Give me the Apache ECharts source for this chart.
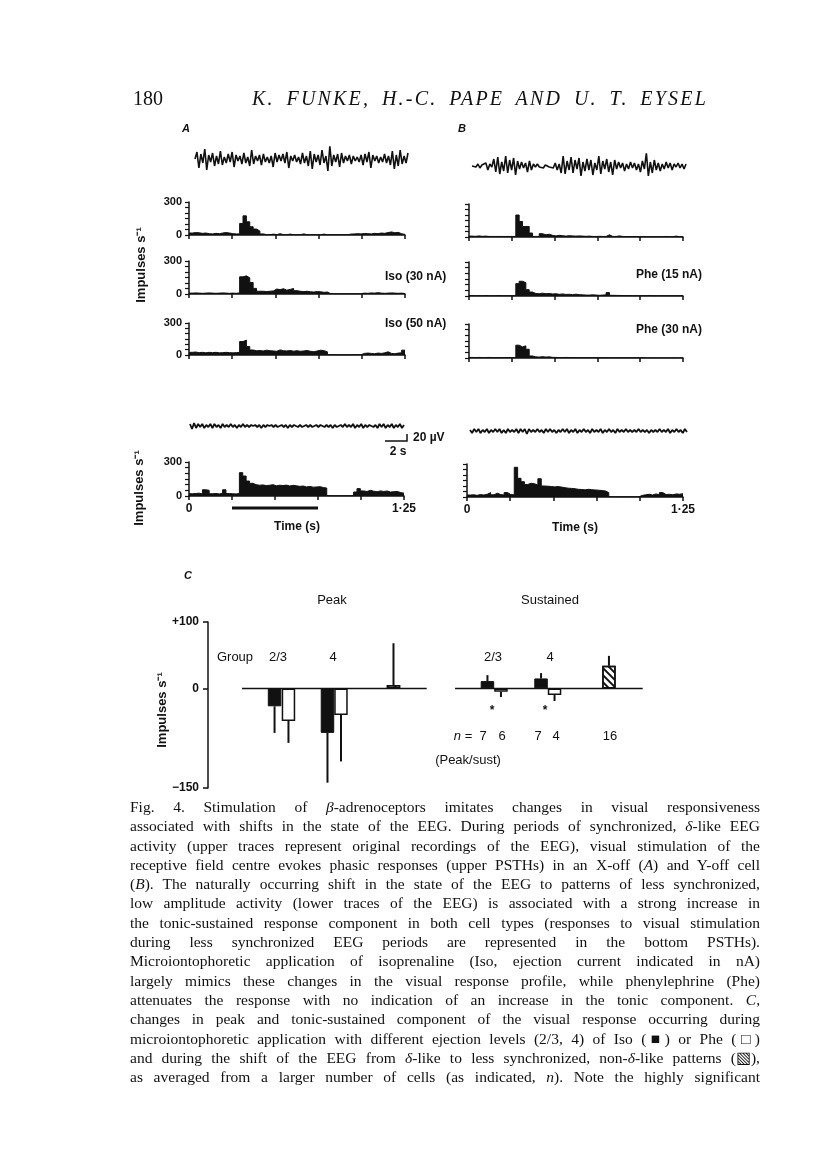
<!DOCTYPE html>
<html>
<head>
<meta charset="utf-8">
<script src="https://cdn.jsdelivr.net/npm/echarts@6.0.0/dist/echarts.min.js"></script>
<style>
  html, body { margin:0; padding:0; background:#fff; }
  #page { position:relative; width:816px; height:1169px; overflow:hidden; background:#fff; }
  #chart { position:absolute; left:0; top:0; width:816px; height:1169px; }
  .hdr { position:absolute; font-family:'Liberation Serif','Times New Roman',serif; font-size:20px; line-height:20px; color:#111; }
  #caption { position:absolute; left:130px; top:797px; width:630px; font-family:'Liberation Serif','Times New Roman',serif; font-size:15.5px; line-height:19.29px; color:#111; }
  #caption div { text-align:justify; text-align-last:justify; white-space:nowrap; }
  #caption i { font-style:italic; }
</style>
</head>
<body>
<div id="page">
  <div id="chart"></div>
  <div class="hdr" style="left:133px;top:88px;">180</div>
  <div class="hdr" style="left:252px;top:88px;width:456px;font-style:italic;letter-spacing:2.2px;text-align:justify;text-align-last:justify;white-space:nowrap;">K. FUNKE, H.-C. PAPE AND U. T. EYSEL</div>
  <div id="caption">
    <div>Fig. 4. Stimulation of <i>β</i>-adrenoceptors imitates changes in visual responsiveness</div>
    <div>associated with shifts in the state of the EEG. During periods of synchronized, <i>δ</i>-like EEG</div>
    <div>activity (upper traces represent original recordings of the EEG), visual stimulation of the</div>
    <div>receptive field centre evokes phasic responses (upper PSTHs) in an X-off (<i>A</i>) and Y-off cell</div>
    <div>(<i>B</i>). The naturally occurring shift in the state of the EEG to patterns of less synchronized,</div>
    <div>low amplitude activity (lower traces of the EEG) is associated with a strong increase in</div>
    <div>the tonic-sustained response component in both cell types (responses to visual stimulation</div>
    <div>during less synchronized EEG periods are represented in the bottom PSTHs).</div>
    <div>Microiontophoretic application of isoprenaline (Iso, ejection current indicated in nA)</div>
    <div>largely mimics these changes in the visual response profile, while phenylephrine (Phe)</div>
    <div>attenuates the response with no indication of an increase in the tonic component. <i>C</i>,</div>
    <div>changes in peak and tonic-sustained component of the visual response occurring during</div>
    <div>microiontophoretic application with different ejection levels (2/3, 4) of Iso (■) or Phe (□)</div>
    <div>and during the shift of the EEG from <i>δ</i>-like to less synchronized, non-<i>δ</i>-like patterns (▧),</div>
    <div>as averaged from a larger number of cells (as indicated, <i>n</i>). Note the highly significant</div>
  </div>
</div>
<script>
// ---------------- DATA ----------------
// PSTH bins: 64 bins over 0–1.25 s, impulses/s
const psthA1 = [18,22,20,15,18,12,10,15,12,18,22,18,12,10,10,
  105,174,120,75,54,36,10,
  3,3,8,3,12,3,3,8,3,3,3,10,3,3,3,3,3,8,3,3,3,3,3,3,3,
  8,10,12,10,14,12,10,15,12,18,15,22,28,20,24,12,5];
const psthA2 = [8,10,8,6,8,10,8,6,8,10,8,6,8,6,10,
  156,165,147,105,51,
  25,25,22,25,28,45,40,48,35,42,50,30,25,22,25,20,18,22,20,15,18,
  3,2,2,2,2,2,2,2,2,3,
  8,6,10,8,12,8,6,8,10,8,6,8,4];
const psthA3 = [25,28,22,25,20,25,22,25,20,22,25,22,20,22,25,
  126,139,79,47,
  40,42,38,45,40,38,35,48,40,38,42,36,40,35,38,42,35,30,38,45,40,30,
  3,2,2,2,2,2,2,2,3,3,
  15,18,15,12,18,15,20,30,15,12,18,20,45];
const psthA4 = [20,22,25,18,55,50,20,22,18,25,55,22,20,18,22,
  206,176,132,112,
  100,95,98,92,95,100,90,95,92,96,88,94,90,85,88,80,84,78,80,82,75,70,
  3,2,2,2,2,3,2,3,
  35,65,45,40,50,42,38,45,40,44,35,38,40,30,25];
const psthB1 = [8,6,10,6,8,5,5,5,5,5,5,5,5,5,
  200,141,96,96,36,
  5,5,30,20,25,15,10,15,12,8,12,10,8,10,8,6,8,
  5,5,6,5,5,20,5,5,10,5,4,4,4,4,3,3,3,3,3,3,3,3,5,3,3,8,3,3];
const psthB2 = [4,3,3,3,4,3,3,3,4,3,3,3,3,3,
  109,130,118,56,35,
  22,20,25,20,22,18,20,15,18,14,15,12,16,12,10,
  8,8,10,8,6,8,10,30,6,5,5,4,4,4,3,3,3,3,3,5,3,3,3,3,3,3,3,3,3,3];
const psthB3 = [5,4,5,4,4,5,4,4,4,4,4,4,4,4,
  113,98,107,77,18,
  10,8,12,8,10,6,5,4,4,5,4,4,3,3,3,3,3,3,3,3,3,2,2,2,2,2,2,2,2,2,2,2,2,1,1,1,1,1,1,1,1,1,1,1,1];
const psthB4 = [18,20,15,22,18,25,40,20,35,22,18,40,22,20,
  270,170,139,114,125,120,110,166,
  100,98,95,92,95,90,85,80,78,75,70,68,65,70,66,64,62,58,55,40,
  3,2,2,2,2,2,2,2,3,
  15,20,25,18,28,20,40,22,25,20,28,25,30];

// EEG traces (relative amplitude)
const eegA1 = [0,7,-9,5,-4,10,-11,4,-3,6,-7,3,-5,8,-6,2,-4,5,-3,7,-8,4,-2,3,-5,6,-4,2,-7,9,-5,3,-2,4,-6,5,-3,2,-4,3,-8,6,-3,4,-2,5,-4,7,-9,3,-2,4,-3,2,-5,6,-4,3,-7,8,-10,5,-3,4,-6,9,-4,3,-12,13,-7,4,-3,5,-8,6,-4,3,-2,4,-5,3,-2,2,-3,4,-6,5,-3,7,-9,4,-2,3,-4,2,-3,5,-4,3,-6,8,-10,4,-7,9,-5,3,-4,6];
const eegB1 = [0,1,-1,2,-2,1,0,3,-4,2,-1,7,-6,9,-8,4,-5,10,-7,6,-4,8,-9,5,-3,4,-2,3,-6,5,-4,2,-1,2,-1,1,-2,1,0,-1,1,-2,3,-4,2,-7,10,-8,5,-4,9,-7,6,-3,8,-10,4,-5,7,-4,6,-9,3,-4,10,-8,5,-3,7,-6,4,-9,6,-3,4,-2,3,-5,2,-3,4,-2,3,-4,2,-6,5,-3,13,-10,4,-7,6,-4,3,-5,2,-3,4,-2,3,-4,2,-1,3,-2,2,-3,2];
const eegA2 = [2,-3,3,-2,2,-1,2,-2,1,-1,2,-2,2,-1,1,-2,2,-1,1,-1,2,-1,1,-2,1,-1,2,-1,1,-1,1,0,1,-1,1,-2,1,-1,1,0,1,-1,1,-1,0,1,-1,1,-2,1,-1,1,0,-1,1,-1,0,1,-1,1,-1,0,1,-1,1,0,-1,1,-1,1,-2,1,-1,0,1,-1,2,-1,1,-1,2,-2,1,-1,2,-2,1,-1,1,0,-1,1,-2,2,-1,2,-2,1,-1,2,-2,1,-1,2,-2,1];
const eegB2 = [1,-2,2,-1,2,-2,1,-1,2,-2,1,-1,2,-1,2,-2,1,-2,2,-1,1,-1,2,-2,2,-1,2,-3,2,-1,1,-1,2,-1,1,-2,2,-1,2,-1,1,-2,1,-1,2,-1,2,-2,1,-1,2,-2,1,-1,2,-1,1,-2,2,-1,1,-1,2,-2,1,-1,2,-1,1,-2,2,-1,1,-1,2,-1,1,-1,1,-1,2,-1,1,-1,1,-2,1,-1,1,-1,2,-1,1,-1,2,-2,1,-1,2,-1,1,-2,2,-1];

// stimulus period (s)
const stimulus = [0.25, 0.75];

// Panel C: mean change (impulses/s) and end of error bar
const cGroups = ['2/3', '4'];
const peakIso = [-27, -67], peakIsoEnd = [-67, -142];
const peakPhe = [-49, -40], peakPheEnd = [-82, -110];
const peakEEG = 5, peakEEGEnd = 68;
const sustIso = [11, 15], sustIsoEnd = [20, 23];
const sustPhe = [-5, -10], sustPheEnd = [-13, -19];
const sustEEG = 34, sustEEGEnd = 49;
const nCells = ['7', '6', '7', '4', '16'];

// ---------------- LAYOUT ----------------
const FONT = "'Liberation Sans', Arial, Helvetica, sans-serif";
const BLACK = '#111';
const TB = 1.25 / 64;
// slot positions in panel C (1 unit = one bar width)
const peakSlots = [[4.93, 5.96], [8.85, 9.85]], peakEegSlot = 13.74;
const sustSlots = [[20.7, 21.7], [24.67, 25.67]], sustEegSlot = 29.7;
const zeroSegs = [[2.52, 16.2], [18.3, 32.2]];

const grids = [
  {left:195, top:147, width:213, height:24},   // 0 EEG A top
  {left:189, top:202, width:216, height:33},   // 1 A1
  {left:189, top:261, width:216, height:33},   // 2 A2
  {left:189, top:323, width:216, height:32},   // 3 A3
  {left:472, top:154, width:214, height:24},   // 4 EEG B top
  {left:469, top:204, width:214, height:33},   // 5 B1
  {left:469, top:262, width:214, height:34},   // 6 B2
  {left:469, top:324, width:214, height:34},   // 7 B3
  {left:190, top:420, width:214, height:12},   // 8 EEG A bottom
  {left:189, top:462, width:215, height:34},   // 9 A4
  {left:470, top:425, width:217, height:12},   // 10 EEG B bottom
  {left:467, top:464, width:216, height:33},   // 11 B4
  {left:208, top:622, width:459, height:166}   // 12 C
];

const axLine = {show:true, lineStyle:{color:BLACK, width:1.5}};
const xAxes = [], yAxes = [], series = [];

function eeg(gi, arr, amp, w) {
  xAxes.push({type:'value', gridIndex:gi, min:0, max:arr.length-1, show:false});
  yAxes.push({type:'value', gridIndex:gi, min:-amp, max:amp, show:false});
  series.push({type:'line', xAxisIndex:gi, yAxisIndex:gi, symbol:'none', animation:false,
    data: arr.map((v,i)=>[i,v]), lineStyle:{color:BLACK, width:w}});
}
function psth(gi, arr, yLabels, xLabels) {
  xAxes.push({type:'value', gridIndex:gi, min:0, max:1.25, interval:0.25,
    axisLine:axLine, splitLine:{show:false},
    axisTick:{show:true, length:4, lineStyle:{color:BLACK, width:1.5}},
    axisLabel:{show:xLabels, margin:7, color:BLACK, fontFamily:FONT, fontWeight:'bold', fontSize:12,
      showMinLabel:true, showMaxLabel:true,
      formatter: v => (v === 0 ? '0' : (Math.abs(v-1.25) < 1e-6 ? '1·25' : ''))}});
  yAxes.push({type:'value', gridIndex:gi, min:0, max:300, interval:50,
    axisLine:axLine, splitLine:{show:false},
    axisTick:{show:true, length:4, lineStyle:{color:BLACK, width:1.2}},
    axisLabel:{show:yLabels, margin:7, color:BLACK, fontFamily:FONT, fontWeight:'bold', fontSize:11,
      showMinLabel:true, showMaxLabel:true,
      formatter: v => (v === 0 || v === 300 ? String(v) : '')}});
  const d = arr.map((v,i)=>[i*TB, v]);
  d.push([1.25, arr[arr.length-1]]);
  series.push({type:'line', xAxisIndex:gi, yAxisIndex:gi, step:'end', symbol:'none', animation:false,
    data:d, lineStyle:{color:BLACK, width:1}, areaStyle:{color:BLACK, opacity:1}});
}

eeg(0, eegA1, 12, 1.6);
psth(1, psthA1, true, false);
psth(2, psthA2, true, false);
psth(3, psthA3, true, false);
eeg(4, eegB1, 12, 1.6);
psth(5, psthB1, false, false);
psth(6, psthB2, false, false);
psth(7, psthB3, false, false);
eeg(8, eegA2, 6, 1.8);
psth(9, psthA4, true, true);
eeg(10, eegB2, 6, 1.8);
psth(11, psthB4, false, true);

// stimulus bar under A4
series.push({type:'custom', xAxisIndex:9, yAxisIndex:9, clip:false, animation:false,
  data:[stimulus],
  renderItem:(p, api) => {
    const a = api.coord([api.value(0), 0]), b = api.coord([api.value(1), 0]);
    return {type:'line', shape:{x1:a[0], y1:a[1]+12, x2:b[0], y2:b[1]+12},
      style:{stroke:BLACK, lineWidth:3.2}};
  }});

// Panel C axes
xAxes.push({type:'value', gridIndex:12, min:0, max:34, show:false});
yAxes.push({type:'value', gridIndex:12, min:-150, max:100, interval:50,
  axisLine:axLine, splitLine:{show:false},
  axisTick:{show:true, length:5, customValues:[-150,0,100], lineStyle:{color:BLACK, width:1.5}},
  axisLabel:{show:true, margin:9, color:BLACK, fontFamily:FONT, fontWeight:'bold', fontSize:12,
    customValues:[-150,0,100],
    formatter: v => (v === 100 ? '+100' : (v === -150 ? '−150' : (v === 0 ? '0' : '')))}});

const hatch = {symbol:'rect', symbolSize:1, dashArrayX:[1,0], dashArrayY:[2,3], rotation:Math.PI/4, color:BLACK};
const black = {color:BLACK, borderColor:BLACK, borderWidth:1};
const white = {color:'#fff', borderColor:BLACK, borderWidth:1.5};
const hatched = {color:'#fff', borderColor:BLACK, borderWidth:1.5, decal:hatch};

const barData = [], errData = [];
cGroups.forEach((g, i) => {
  barData.push({value:[peakSlots[i][0], peakIso[i]], itemStyle:black});
  barData.push({value:[peakSlots[i][1], peakPhe[i]], itemStyle:white});
  barData.push({value:[sustSlots[i][0], sustIso[i]], itemStyle:black});
  barData.push({value:[sustSlots[i][1], sustPhe[i]], itemStyle:white});
  errData.push([peakSlots[i][0], peakIso[i], peakIsoEnd[i]]);
  errData.push([peakSlots[i][1], peakPhe[i], peakPheEnd[i]]);
  errData.push([sustSlots[i][0], sustIso[i], sustIsoEnd[i]]);
  errData.push([sustSlots[i][1], sustPhe[i], sustPheEnd[i]]);
});
barData.push({value:[peakEegSlot, peakEEG], itemStyle:hatched});
barData.push({value:[sustEegSlot, sustEEG], itemStyle:hatched});
errData.push([peakEegSlot, peakEEG, peakEEGEnd]);
errData.push([sustEegSlot, sustEEG, sustEEGEnd]);

series.push({type:'bar', xAxisIndex:12, yAxisIndex:12, barWidth:13.5, animation:false, data:barData});
series.push({type:'custom', xAxisIndex:12, yAxisIndex:12, animation:false, data:errData,
  renderItem:(p, api) => {
    const a = api.coord([api.value(0), api.value(1)]), b = api.coord([api.value(0), api.value(2)]);
    return {type:'line', shape:{x1:a[0], y1:a[1], x2:b[0], y2:b[1]}, style:{stroke:BLACK, lineWidth:2}};
  }});
series.push({type:'custom', xAxisIndex:12, yAxisIndex:12, animation:false, data:zeroSegs, z:5,
  renderItem:(p, api) => {
    const a = api.coord([api.value(0), 0]), b = api.coord([api.value(1), 0]);
    return {type:'line', shape:{x1:a[0], y1:a[1], x2:b[0], y2:b[1]}, style:{stroke:BLACK, lineWidth:1.5}};
  }});

// ---------------- TEXT ----------------
function t(x, y, text, opts) {
  opts = opts || {};
  return {type:'text', x:x, y:y, rotation:opts.rot || 0, silent:true,
    style:Object.assign({text:text, fill:BLACK, align:opts.align || 'center', verticalAlign:'middle',
      font:(opts.style || 'normal') + ' ' + (opts.weight || 'bold') + ' ' + (opts.size || 12) + 'px ' + FONT},
      opts.rich ? {rich:opts.rich} : {})};
}
const elements = [
  t(186, 129, 'A', {style:'italic', size:11}),
  t(462, 129, 'B', {style:'italic', size:11}),
  t(188, 576, 'C', {style:'italic', size:11}),
  t(385, 277, 'Iso (30 nA)', {align:'left'}),
  t(385, 324, 'Iso (50 nA)', {align:'left'}),
  t(636, 275, 'Phe (15 nA)', {align:'left'}),
  t(636, 330, 'Phe (30 nA)', {align:'left'}),
  t(141, 265, 'Impulses s⁻¹', {rot:Math.PI/2, size:13}),
  t(139, 488, 'Impulses s⁻¹', {rot:Math.PI/2, size:13}),
  t(162, 710, 'Impulses s⁻¹', {rot:Math.PI/2, size:13}),
  {type:'polyline', silent:true, shape:{points:[[385,441],[407,441],[407,434]]}, style:{stroke:BLACK, lineWidth:1.5, fill:null}},
  t(413, 438, '20 µV', {align:'left'}),
  t(398, 452, '2 s'),
  t(297, 527, 'Time (s)'),
  t(575, 528, 'Time (s)'),
  t(332, 600, 'Peak', {weight:'normal', size:13}),
  t(550, 600, 'Sustained', {weight:'normal', size:13}),
  t(235, 657, 'Group', {weight:'normal', size:13}),
  t(278, 657, cGroups[0], {weight:'normal', size:13}),
  t(333, 657, cGroups[1], {weight:'normal', size:13}),
  t(493, 657, cGroups[0], {weight:'normal', size:13}),
  t(550, 657, cGroups[1], {weight:'normal', size:13}),
  t(492, 711, '*', {size:12}),
  t(545, 711, '*', {size:12}),
  t(463, 736, '{i|n} =', {weight:'normal', size:13, rich:{i:{fontStyle:'italic', fontFamily:FONT, fontSize:13, fill:BLACK}}}),
  t(483, 736, nCells[0], {weight:'normal', size:13}),
  t(502, 736, nCells[1], {weight:'normal', size:13}),
  t(538, 736, nCells[2], {weight:'normal', size:13}),
  t(556, 736, nCells[3], {weight:'normal', size:13}),
  t(610, 736, nCells[4], {weight:'normal', size:13}),
  t(468, 760, '(Peak/sust)', {weight:'normal', size:13})
];

const chart = echarts.init(document.getElementById('chart'), null, {renderer:'canvas'});
chart.setOption({
  animation:false,
  grid:grids,
  xAxis:xAxes,
  yAxis:yAxes,
  series:series,
  graphic:{elements:elements}
});
</script>
</body>
</html>
